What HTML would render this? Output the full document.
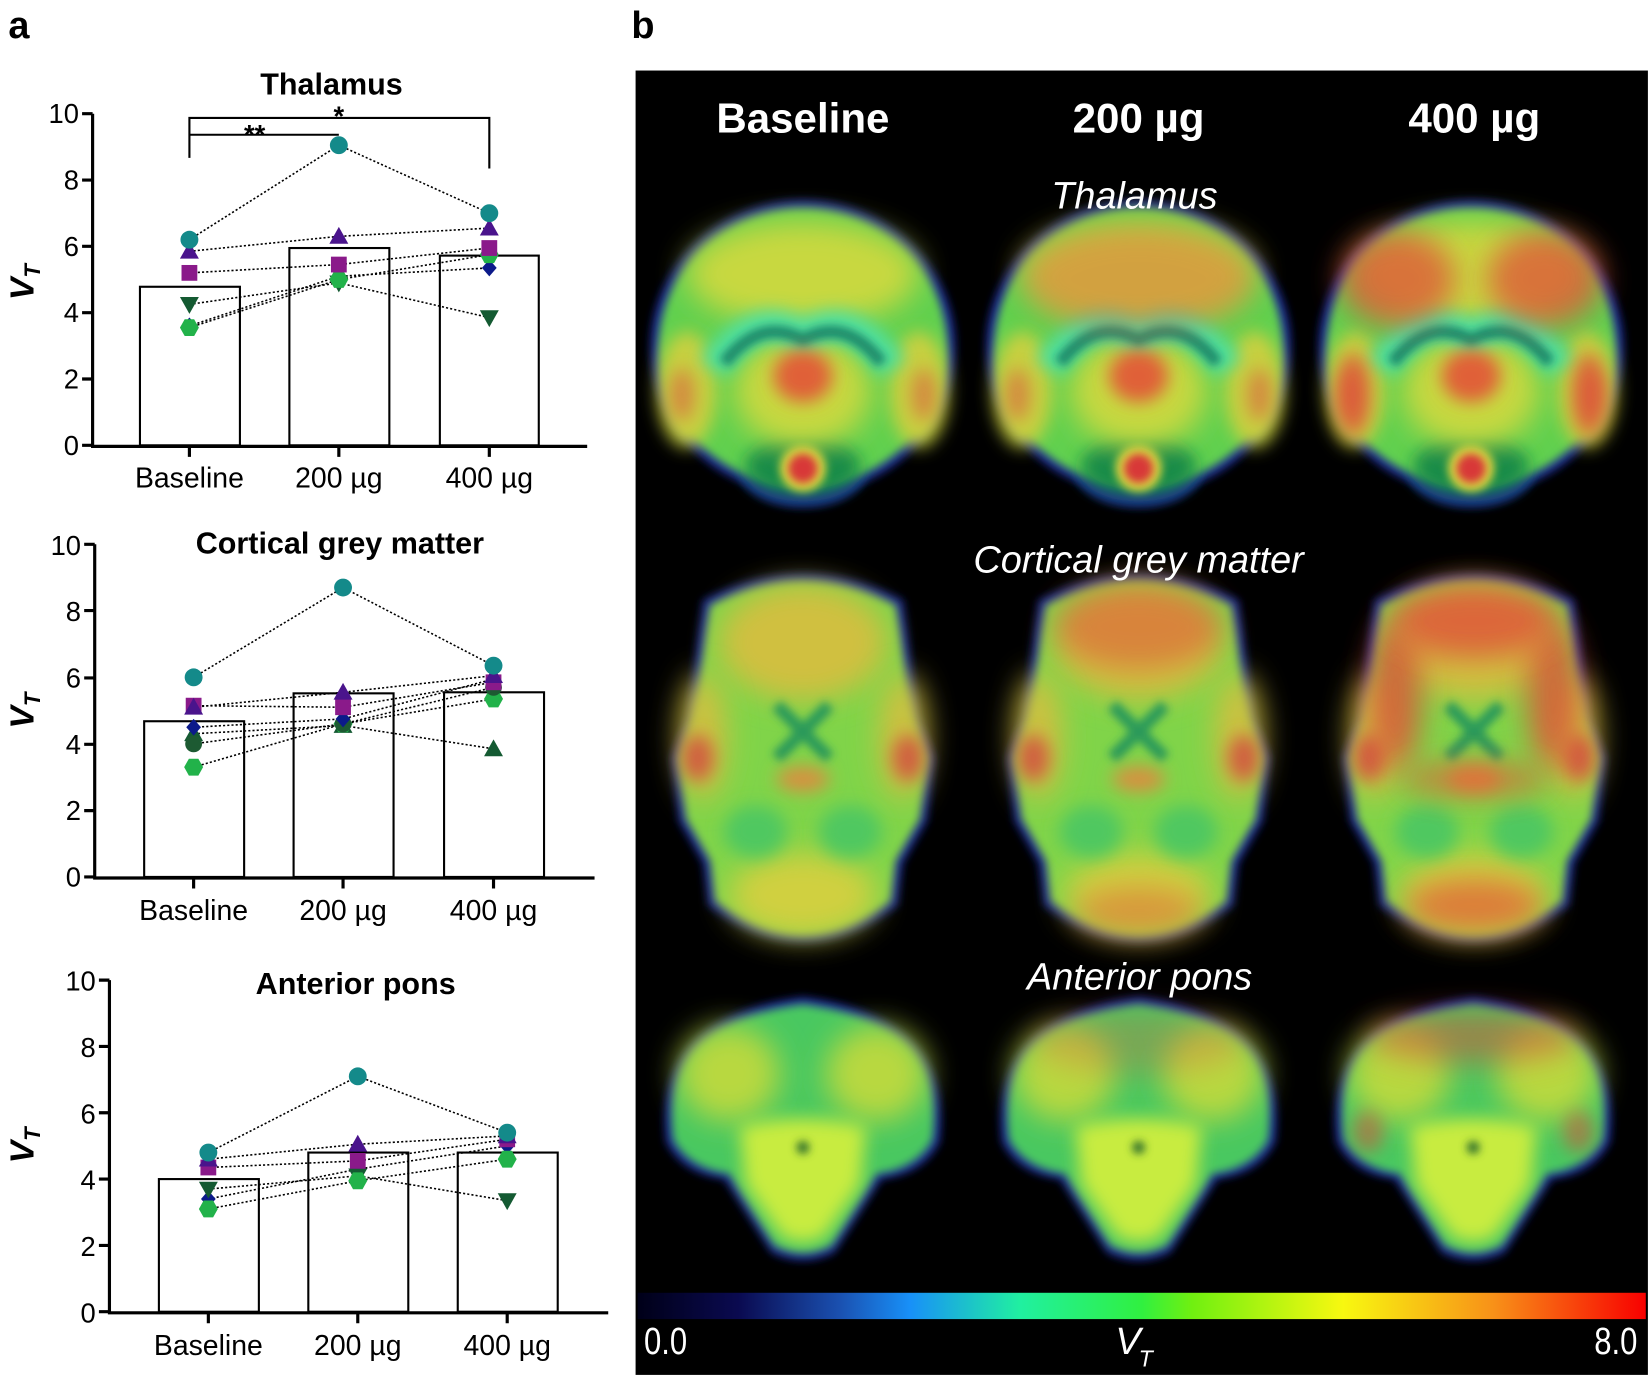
<!DOCTYPE html>
<html><head><meta charset="utf-8"><style>
html,body{margin:0;padding:0;background:#fff;width:1650px;height:1377px;overflow:hidden}
svg{display:block}
text{font-family:"Liberation Sans",sans-serif}
</style></head><body>
<svg width="1650" height="1377" viewBox="0 0 1568 1308" preserveAspectRatio="none" xmlns="http://www.w3.org/2000/svg">
<defs>
<filter id="b4" x="-100%" y="-100%" width="300%" height="300%"><feGaussianBlur stdDeviation="4"/></filter>
<filter id="b8" x="-100%" y="-100%" width="300%" height="300%"><feGaussianBlur stdDeviation="8"/></filter>
<filter id="b14" x="-100%" y="-100%" width="300%" height="300%"><feGaussianBlur stdDeviation="14"/></filter>
<linearGradient id="cb" x1="0" x2="1" y1="0" y2="0">
<stop offset="0" stop-color="#000018"/><stop offset="0.1" stop-color="#0a0a50"/><stop offset="0.2" stop-color="#1a50b0"/><stop offset="0.27" stop-color="#1890f8"/><stop offset="0.38" stop-color="#20f0a0"/><stop offset="0.5" stop-color="#30f040"/><stop offset="0.55" stop-color="#70f010"/><stop offset="0.7" stop-color="#f8f810"/><stop offset="0.85" stop-color="#f89018"/><stop offset="1" stop-color="#f80000"/>
</linearGradient>
<circle id="mc" r="8.5" fill="#148a8a"/>
<circle id="mc2" r="8" fill="#1d5a32"/>
<path id="mtu" d="M0,-9 L9,7 L-9,7Z" fill="#4a148c"/>
<path id="mtu2" d="M0,-9 L9,7 L-9,7Z" fill="#145a32"/>
<rect id="ms" x="-7.5" y="-7.5" width="15" height="15" fill="#8a1a8a"/>
<path id="mtd" d="M0,9 L9,-7 L-9,-7Z" fill="#145a32"/>
<path id="md" d="M0,-8 L7,0 L0,8 L-7,0Z" fill="#0c1a8a"/>
<path id="mh" d="M-4.5,-8 L4.5,-8 L9,0 L4.5,8 L-4.5,8 L-9,0Z" fill="#22b24a"/>

<g id="thal">
<ellipse cx="0" cy="-5" rx="145" ry="140" fill="#1a2a90" filter="url(#b4)"/>
<ellipse cx="0" cy="112" rx="60" ry="35" fill="#1a2a90" filter="url(#b4)"/>
<ellipse cx="0" cy="-5" rx="137" ry="132" fill="#60d050" filter="url(#b4)"/>
<ellipse cx="0" cy="108" rx="55" ry="28" fill="#188a4a" filter="url(#b8)"/>
<ellipse cx="0" cy="-75" rx="110" ry="50" fill="#c8d840" filter="url(#b14)"/>
<ellipse cx="-110" cy="35" rx="28" ry="55" fill="#c8d040" filter="url(#b8)"/>
<ellipse cx="110" cy="35" rx="28" ry="55" fill="#c8d040" filter="url(#b8)"/>
<ellipse cx="0" cy="35" rx="65" ry="55" fill="#c8d840" filter="url(#b14)"/>
<path d="M-85,15 Q-45,-45 0,-15 Q45,-45 85,15" fill="none" stroke="#50e0a0" stroke-width="30" filter="url(#b8)"/>
<path d="M-75,10 Q-40,-35 0,-12 Q40,-35 75,10" fill="none" stroke="#1a8a6a" stroke-width="12" filter="url(#b4)"/>
<ellipse cx="0" cy="22" rx="28" ry="25" fill="#e06038" filter="url(#b8)"/>
<ellipse cx="-115" cy="40" rx="12" ry="25" fill="#d87040" opacity="0.7" filter="url(#b8)"/>
<ellipse cx="115" cy="40" rx="12" ry="25" fill="#d87040" opacity="0.7" filter="url(#b8)"/>
<circle cx="0" cy="110" r="22" fill="#d8d840" filter="url(#b4)"/>
<circle cx="0" cy="110" r="14" fill="#d83838" filter="url(#b4)"/>
</g>
<g id="cort">
<path d="M-95,-150 Q0,-200 95,-150 L110,-40 L125,0 L118,60 L95,100 L90,140 Q0,210 -90,140 L-95,100 L-118,60 L-125,0 L-110,-40Z" fill="#1a2a90" filter="url(#b4)"/>
<path d="M-88,-145 Q0,-190 88,-145 L103,-40 L118,0 L111,58 L88,98 L83,136 Q0,200 -83,136 L-88,98 L-111,58 L-118,0 L-103,-40Z" fill="#80d448" filter="url(#b4)"/>
<ellipse cx="0" cy="-110" rx="80" ry="55" fill="#d0c040" filter="url(#b14)"/>
<ellipse cx="0" cy="130" rx="70" ry="40" fill="#d0d040" filter="url(#b14)"/>
<ellipse cx="-95" cy="-20" rx="22" ry="60" fill="#d0c040" filter="url(#b14)"/>
<ellipse cx="95" cy="-20" rx="22" ry="60" fill="#d0c040" filter="url(#b14)"/>
<ellipse cx="-100" cy="0" rx="15" ry="22" fill="#d06040" filter="url(#b8)"/>
<ellipse cx="100" cy="0" rx="15" ry="22" fill="#d06040" filter="url(#b8)"/>
<path d="M-25,-50 L25,0 M25,-50 L-25,0" stroke="#2a9a5a" stroke-width="12" filter="url(#b4)"/>
<ellipse cx="0" cy="20" rx="25" ry="12" fill="#d89040" filter="url(#b8)"/>
<ellipse cx="-45" cy="70" rx="30" ry="25" fill="#50c860" filter="url(#b8)"/>
<ellipse cx="45" cy="70" rx="30" ry="25" fill="#50c860" filter="url(#b8)"/>
</g>
<g id="pons">
<path d="M-130,10 Q-145,-110 0,-128 Q145,-110 130,10 Q115,40 75,45 L30,115 Q0,130 -30,115 L-75,45 Q-115,40 -130,10Z" fill="#1a2a90" filter="url(#b4)"/>
<path d="M-123,8 Q-138,-104 0,-121 Q138,-104 123,8 Q108,35 70,40 L27,108 Q0,122 -27,108 L-70,40 Q-108,35 -123,8Z" fill="#48c860" filter="url(#b4)"/>
<ellipse cx="-70" cy="-55" rx="48" ry="45" fill="#b8d840" filter="url(#b14)"/>
<ellipse cx="70" cy="-55" rx="48" ry="45" fill="#b8d840" filter="url(#b14)"/>
<path d="M0,-100 L0,-10" stroke="#1a8a5a" stroke-width="18" filter="url(#b8)"/>
<path d="M-60,-5 Q0,-20 60,-5 L55,50 L20,100 Q0,110 -20,100 L-55,50Z" fill="#c8ec40" filter="url(#b8)"/>
<circle cx="0" cy="15" r="6" fill="#2a6a2a" filter="url(#b4)"/>
</g>
</defs>

<text x="8" y="36" font-size="36" font-weight="bold">a</text>
<text x="600" y="36" font-size="36" font-weight="bold">b</text>

<!-- right panel -->
<rect x="604" y="67" width="962" height="1239" fill="#000"/>
<use href="#thal" x="763" y="335"/>
<g transform="translate(1082,335)"><use href="#thal"/><g opacity="0.45"><ellipse cx="0" cy="-70" rx="110" ry="50" fill="#e06040" filter="url(#b14)"/></g></g>
<g transform="translate(1398,335)"><use href="#thal"/><g opacity="0.7"><ellipse cx="-70" cy="-70" rx="55" ry="45" fill="#e04838" filter="url(#b14)"/><ellipse cx="70" cy="-70" rx="55" ry="45" fill="#e04838" filter="url(#b14)"/><ellipse cx="-112" cy="40" rx="16" ry="40" fill="#e04838" filter="url(#b8)"/><ellipse cx="112" cy="40" rx="16" ry="40" fill="#e04838" filter="url(#b8)"/></g></g>
<use href="#cort" x="763" y="720"/>
<g transform="translate(1082,720)"><use href="#cort"/><g opacity="0.5"><ellipse cx="0" cy="-125" rx="80" ry="40" fill="#e04838" filter="url(#b14)"/><ellipse cx="0" cy="145" rx="60" ry="22" fill="#e06038" filter="url(#b14)"/></g></g>
<g transform="translate(1401,720)"><use href="#cort"/><g opacity="0.75"><ellipse cx="-75" cy="-60" rx="25" ry="70" fill="#e04838" filter="url(#b14)"/><ellipse cx="75" cy="-60" rx="25" ry="70" fill="#e04838" filter="url(#b14)"/><ellipse cx="0" cy="-130" rx="80" ry="35" fill="#e04838" filter="url(#b14)"/><ellipse cx="0" cy="140" rx="65" ry="25" fill="#e06038" filter="url(#b14)"/><ellipse cx="0" cy="20" rx="70" ry="15" fill="#e06038" filter="url(#b14)"/></g></g>
<use href="#pons" x="763" y="1075"/>
<g transform="translate(1082,1075)"><use href="#pons"/><g opacity="0.3"><ellipse cx="0" cy="-85" rx="100" ry="30" fill="#e06040" filter="url(#b14)"/></g></g>
<g transform="translate(1400,1075)"><use href="#pons"/><g opacity="0.5"><ellipse cx="0" cy="-90" rx="100" ry="25" fill="#e04838" filter="url(#b14)"/><ellipse cx="-100" cy="0" rx="15" ry="20" fill="#e04838" filter="url(#b8)"/><ellipse cx="100" cy="0" rx="15" ry="20" fill="#e04838" filter="url(#b8)"/></g></g>
<g fill="#fff" font-weight="bold" font-size="40" text-anchor="middle">
<text x="763" y="126">Baseline</text><text x="1082" y="126">200 µg</text><text x="1401" y="126">400 µg</text>
</g>
<g fill="#fff" font-style="italic" font-size="36" text-anchor="middle">
<text x="1078" y="198">Thalamus</text><text x="1082" y="544">Cortical grey matter</text><text x="1083" y="940">Anterior pons</text>
</g>
<rect x="606" y="1228" width="958" height="25" fill="url(#cb)"/>
<g fill="#fff" font-size="36">
<text x="612" y="1286" transform="translate(612,0) scale(0.82,1) translate(-612,0)">0.0</text>
<text x="1556" y="1286" text-anchor="end" transform="translate(1556,0) scale(0.82,1) translate(-1556,0)">8.0</text>
<text x="1060" y="1286" font-style="italic">V</text><text x="1082" y="1298" font-style="italic" font-size="22">T</text>
</g>

<!-- Chart 1 -->
<g font-size="26" text-anchor="end">
<text x="75" y="117">10</text><text x="75" y="180">8</text><text x="75" y="243">6</text><text x="75" y="306">4</text><text x="75" y="369">2</text><text x="75" y="432">0</text>
</g>
<g stroke="#000" stroke-width="3" fill="none">
<path d="M88,108 V424 H558 M78,108 H88 M78,171 H88 M78,234 H88 M78,297 H88 M78,360 H88 M78,423 H88 M180,424 V434 M322,424 V434 M465,424 V434"/>
</g>
<g stroke="#000" stroke-width="2" fill="#fff">
<rect x="133" y="272.4" width="95" height="150.6"/><rect x="275" y="235.6" width="95" height="187.4"/><rect x="418" y="242.8" width="94" height="180.2"/>
</g>
<path d="M180,150 V128 H322 M180,128 V112 H465 V160" stroke="#000" stroke-width="2" fill="none"/>
<text x="242" y="137" font-size="26" text-anchor="middle" font-weight="bold">**</text>
<text x="322" y="119" font-size="26" text-anchor="middle" font-weight="bold">*</text>
<g stroke="#000" stroke-width="1.5" stroke-dasharray="2,2" fill="none">
<polyline points="180,227.7 322,137.9 465,202.5"/><polyline points="180,238.7 322,224.5 465,216.7"/><polyline points="180,259.2 322,251.3 465,235.6"/><polyline points="180,289.1 322,268.7 465,301.7"/><polyline points="180,309.6 322,262.4 465,254.5"/><polyline points="180,311.2 322,265.5 465,241.9"/>
</g>
<use href="#md" x="180" y="309.6"/><use href="#md" x="322" y="262.4"/><use href="#md" x="465" y="254.5"/>
<use href="#mtd" x="180" y="289.1"/><use href="#mtd" x="322" y="268.7"/><use href="#mtd" x="465" y="301.7"/>
<use href="#mh" x="180" y="311.2"/><use href="#mh" x="322" y="265.5"/><use href="#mh" x="465" y="241.9"/>
<use href="#ms" x="180" y="259.2"/><use href="#ms" x="322" y="251.3"/><use href="#ms" x="465" y="235.6"/>
<use href="#mtu" x="180" y="238.7"/><use href="#mtu" x="322" y="224.5"/><use href="#mtu" x="465" y="216.7"/>
<use href="#mc" x="180" y="227.7"/><use href="#mc" x="322" y="137.9"/><use href="#mc" x="465" y="202.5"/>
<text x="315" y="90" font-size="29" font-weight="bold" text-anchor="middle">Thalamus</text>
<g font-size="27" text-anchor="middle"><text x="180" y="463">Baseline</text><text x="322" y="463">200 µg</text><text x="465" y="463">400 µg</text></g>
<text transform="translate(32,268) rotate(-90)" font-size="32" font-weight="bold" font-style="italic" text-anchor="middle">V<tspan font-size="21" dy="6">T</tspan></text>

<!-- Chart 2 -->
<g font-size="26" text-anchor="end">
<text x="77" y="527">10</text><text x="77" y="590">8</text><text x="77" y="653">6</text><text x="77" y="716">4</text><text x="77" y="779">2</text><text x="77" y="842">0</text>
</g>
<g stroke="#000" stroke-width="3" fill="none">
<path d="M90,517 V834 H565 M80,517 H90 M80,580 H90 M80,644 H90 M80,707 H90 M80,770 H90 M80,833 H90 M184,834 V844 M326,834 V844 M469,834 V844"/>
</g>
<g stroke="#000" stroke-width="2" fill="#fff">
<rect x="137" y="685.1" width="95" height="147.9"/><rect x="279" y="658.6" width="95" height="174.4"/><rect x="422" y="657.6" width="95" height="175.4"/>
</g>
<g stroke="#000" stroke-width="1.5" stroke-dasharray="2,2" fill="none">
<polyline points="184,643.4 326,558.1 469,632.3"/><polyline points="184,671.8 326,657.6 469,641.8"/><polyline points="184,670.3 326,671.8 469,648.1"/><polyline points="184,690.8 326,682.9 469,645"/><polyline points="184,706.6 326,687.6 469,652.9"/><polyline points="184,728.7 326,687.6 469,663.9"/><polyline points="184,697 326,689.2 469,711.3"/>
</g>
<use href="#mtu2" x="184" y="697"/><use href="#mtu2" x="326" y="689.2"/><use href="#mtu2" x="469" y="711.3"/>
<use href="#mh" x="184" y="728.7"/><use href="#mh" x="326" y="687.6"/><use href="#mh" x="469" y="663.9"/>
<use href="#mc2" x="184" y="706.6"/><use href="#mc2" x="326" y="687.6"/><use href="#mc2" x="469" y="652.9"/>
<use href="#md" x="184" y="690.8"/><use href="#md" x="326" y="682.9"/><use href="#md" x="469" y="645"/>
<use href="#ms" x="184" y="670.3"/><use href="#ms" x="326" y="671.8"/><use href="#ms" x="469" y="648.1"/>
<use href="#mtu" x="184" y="671.8"/><use href="#mtu" x="326" y="657.6"/><use href="#mtu" x="469" y="641.8"/>
<use href="#mc" x="184" y="643.4"/><use href="#mc" x="326" y="558.1"/><use href="#mc" x="469" y="632.3"/>
<text x="323" y="526" font-size="29" font-weight="bold" text-anchor="middle">Cortical grey matter</text>
<g font-size="27" text-anchor="middle"><text x="184" y="874">Baseline</text><text x="326" y="874">200 µg</text><text x="469" y="874">400 µg</text></g>
<text transform="translate(32,675) rotate(-90)" font-size="32" font-weight="bold" font-style="italic" text-anchor="middle">V<tspan font-size="21" dy="6">T</tspan></text>

<!-- Chart 3 -->
<g font-size="26" text-anchor="end">
<text x="91" y="941">10</text><text x="91" y="1004">8</text><text x="91" y="1067">6</text><text x="91" y="1130">4</text><text x="91" y="1193">2</text><text x="91" y="1256">0</text>
</g>
<g stroke="#000" stroke-width="3" fill="none">
<path d="M104,931 V1247 H578 M94,931 H104 M94,994 H104 M94,1057 H104 M94,1120 H104 M94,1183 H104 M94,1246 H104 M198,1247 V1257 M340,1247 V1257 M482,1247 V1257"/>
</g>
<g stroke="#000" stroke-width="2" fill="#fff">
<rect x="151" y="1120" width="95" height="126"/><rect x="293" y="1094.8" width="95" height="151.2"/><rect x="435" y="1094.8" width="95" height="151.2"/>
</g>
<g stroke="#000" stroke-width="1.5" stroke-dasharray="2,2" fill="none">
<polyline points="198,1094.8 340,1022.4 482,1075.9"/><polyline points="198,1101.1 340,1086.9 482,1079"/><polyline points="198,1109 340,1102.7 482,1082.2"/><polyline points="198,1129.5 340,1116.9 482,1140.5"/><polyline points="198,1138.9 340,1110.6 482,1088.5"/><polyline points="198,1148.4 340,1121.6 482,1101.1"/>
</g>
<use href="#md" x="198" y="1138.9"/><use href="#md" x="340" y="1110.6"/><use href="#md" x="482" y="1088.5"/>
<use href="#mtd" x="198" y="1129.5"/><use href="#mtd" x="340" y="1116.9"/><use href="#mtd" x="482" y="1140.5"/>
<use href="#mh" x="198" y="1148.4"/><use href="#mh" x="340" y="1121.6"/><use href="#mh" x="482" y="1101.1"/>
<use href="#ms" x="198" y="1109"/><use href="#ms" x="340" y="1102.7"/><use href="#ms" x="482" y="1082.2"/>
<use href="#mtu" x="198" y="1101.1"/><use href="#mtu" x="340" y="1086.9"/><use href="#mtu" x="482" y="1079"/>
<use href="#mc" x="198" y="1094.8"/><use href="#mc" x="340" y="1022.4"/><use href="#mc" x="482" y="1075.9"/>
<text x="338" y="944" font-size="29" font-weight="bold" text-anchor="middle">Anterior pons</text>
<g font-size="27" text-anchor="middle"><text x="198" y="1287">Baseline</text><text x="340" y="1287">200 µg</text><text x="482" y="1287">400 µg</text></g>
<text transform="translate(32,1088) rotate(-90)" font-size="32" font-weight="bold" font-style="italic" text-anchor="middle">V<tspan font-size="21" dy="6">T</tspan></text>
</svg>
</body></html>
